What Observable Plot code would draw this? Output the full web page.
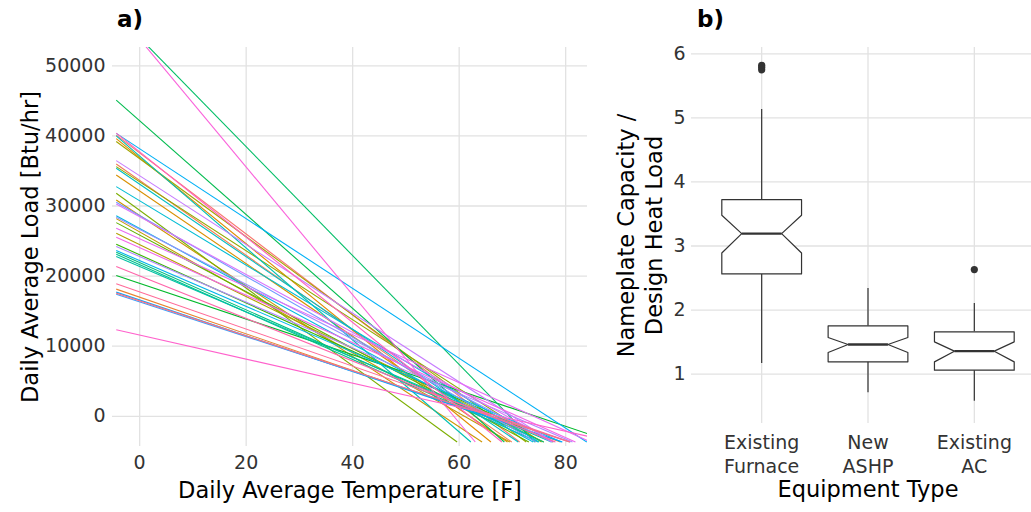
<!DOCTYPE html>
<html><head><meta charset="utf-8">
<script src="https://cdn.jsdelivr.net/npm/d3@7"></script>
<script src="https://cdn.jsdelivr.net/npm/@observablehq/plot@0.6"></script>
<style>
html,body{margin:0;padding:0;background:#fff;overflow:hidden;width:1031px;height:512px;}
#wrap{position:relative;width:1031px;height:512px;font-family:"DejaVu Sans",sans-serif;overflow:hidden;}
.panel{position:absolute;top:0;}
.panel svg{max-width:none !important;}
.tag{position:absolute;font-weight:bold;font-size:23px;line-height:1;color:#000;font-family:"DejaVu Sans",sans-serif;}
</style></head><body>
<div id="wrap">
  <div id="pa" class="panel" style="left:0px;width:600px"></div>
  <div id="pb" class="panel" style="left:600px;width:460px"></div>
  <div class="tag" style="left:117px;top:8px">a)</div>
  <div class="tag" style="left:697px;top:8px">b)</div>
</div>
<script>
// ---------- Panel a data: one regression line per house ----------
// daily average load at 0 °F [Btu/hr]
const houseLoadAt0F = [
  37560, 33650, 16990, 36900, 32150, 28650, 26300, 24490,
  36750, 33450, 29370, 25850, 23040, 18970, 42150, 54000,
  21930, 21630, 21370, 37120, 33110, 30740, 26780, 22210,
  38170, 16590, 16310, 28620, 26670, 22790, 34310, 28480,
  25330, 24060, 53800, 11590, 37720, 20030, 17740, 16470
];
// balance-point temperature (load = 0) [F]
const houseBalanceTempF = [
  65, 63, 65, 60, 62, 57, 61, 66,
  66, 68, 53, 64, 67, 74.4, 63, 69.5,
  65, 64, 66, 56.6, 64, 67, 65, 68,
  76.6, 65, 66, 66, 68, 70, 70, 69,
  74, 71, 59, 67.5, 62, 66, 67, 66
];
const tempTicks = [0, 20, 40, 60, 80];
const loadTicks = [0, 10000, 20000, 30000, 40000, 50000];

// ---------- Panel b data: notched box plots ----------
const equipmentTypes = ["Existing\nFurnace", "New\nASHP", "Existing\nAC"];
const boxLowerWhisker = [1.167, 0.708, 0.579];
const boxQ1           = [2.564, 1.192, 1.062];
const boxNotchLow     = [2.891, 1.338, 1.192];
const boxMedian       = [3.194, 1.463, 1.359];
const boxNotchHigh    = [3.479, 1.572, 1.504];
const boxQ3           = [3.724, 1.753, 1.660];
const boxUpperWhisker = [5.132, 2.336, 2.102];
const outlierType  = [0, 0, 0, 2];
const outlierValue = [5.75, 5.79, 5.82, 2.632];
const ratioTicks = [1, 2, 3, 4, 5, 6];

// ggplot-style hue palette (polar LUV, c = 100, l = 65)
function polarLuvHex(L, C, H) {
  const h = H * Math.PI / 180, u = C * Math.cos(h), v = C * Math.sin(h);
  const Xn = 95.047, Yn = 100, Zn = 108.883;
  const den = Xn + 15 * Yn + 3 * Zn, un = 4 * Xn / den, vn = 9 * Yn / den;
  const Y = L > 8 ? Yn * Math.pow((L + 16) / 116, 3) : Yn * L / 903.3;
  const up = u / (13 * L) + un, vp = v / (13 * L) + vn;
  const X = Y * 9 * up / (4 * vp), Z = Y * (12 - 3 * up - 20 * vp) / (4 * vp);
  const x = X / 100, y = Y / 100, z = Z / 100;
  const lin = [3.2404542 * x - 1.5371385 * y - 0.4985314 * z,
               -0.9692660 * x + 1.8760108 * y + 0.0415560 * z,
               0.0556434 * x - 0.2040259 * y + 1.0572252 * z];
  const g = c => { c = Math.min(1, Math.max(0, c)); return c <= 0.0031308 ? 12.92 * c : 1.055 * Math.pow(c, 1 / 2.4) - 0.055; };
  return d3.rgb(...lin.map(c => Math.round(g(c) * 255))).formatHex();
}

// ---------- Panel a ----------
const n = houseLoadAt0F.length;
const palette = d3.range(n).map(i => polarLuvHex(65, 100, 15 + 360 * i / n));
const X_MIN = -5.1, X_MAX = 84.1, Y_MIN = -4310, Y_MAX = 52610;
const LINE_X0 = -4.4, LINE_YMIN = -3670;
const segs = houseLoadAt0F.map((a, i) => {
  const slope = a / houseBalanceTempF[i];
  let xEnd = (a - LINE_YMIN) / slope;
  if (xEnd > X_MAX) xEnd = X_MAX;
  return {house: i, x1: LINE_X0, y1: a - slope * LINE_X0, x2: xEnd, y2: a - slope * xEnd};
});
const gridStyle = {stroke: "#e2e2e2", strokeOpacity: 1, strokeWidth: 1.3};
const FONT = "DejaVu Sans";

const plotA = Plot.plot({
  width: 600, height: 512,
  marginLeft: 112, marginRight: 13, marginTop: 47, marginBottom: 66,
  style: {fontFamily: FONT, fontSize: "19px", color: "#333", background: "transparent", overflow: "visible", maxWidth: "none"},
  x: {domain: [X_MIN, X_MAX]},
  y: {domain: [Y_MIN, Y_MAX]},
  color: {type: "ordinal", domain: d3.range(n), range: palette},
  marks: [
    Plot.gridX(tempTicks, gridStyle),
    Plot.gridY(loadTicks, gridStyle),
    Plot.link(segs, {x1: "x1", y1: "y1", x2: "x2", y2: "y2", stroke: "house", strokeWidth: 1.1, clip: true}),
    Plot.axisX(tempTicks, {tickSize: 0, tickPadding: 9, label: null, fontSize: 19, fill: "#333"}),
    Plot.axisY(loadTicks, {tickSize: 0, tickPadding: 7, label: null, fontSize: 19, fill: "#333", tickFormat: d3.format("d")}),
    Plot.text(["Daily Average Temperature [F]"], {text: d => d, frameAnchor: "bottom", dy: 51, fontSize: 22.5, fill: "#000"}),
    Plot.text(["Daily Average Load [Btu/hr]"], {text: d => d, frameAnchor: "left", textAnchor: "middle", dx: -82, rotate: -90, fontSize: 22.5, fill: "#000"})
  ]
});
document.getElementById("pa").appendChild(plotA);

// ---------- Panel b ----------
const BOX_HALF = 0.375, NOTCH_HALF = 0.1875;
const boxPoly = [];
equipmentTypes.forEach((t, i) => {
  const q1 = boxQ1[i], q3 = boxQ3[i], lo = boxNotchLow[i], hi = boxNotchHigh[i], md = boxMedian[i];
  [[i - BOX_HALF, q1], [i - BOX_HALF, lo], [i - NOTCH_HALF, md], [i - BOX_HALF, hi], [i - BOX_HALF, q3],
   [i + BOX_HALF, q3], [i + BOX_HALF, hi], [i + NOTCH_HALF, md], [i + BOX_HALF, lo], [i + BOX_HALF, q1],
   [i - BOX_HALF, q1]].forEach(([x, y]) => boxPoly.push({type: i, x, y}));
});
const boxes = equipmentTypes.map((t, i) => ({
  type: i, lw: boxLowerWhisker[i], q1: boxQ1[i], md: boxMedian[i], q3: boxQ3[i], uw: boxUpperWhisker[i]
}));
const outliers = outlierType.map((t, i) => ({type: t, value: outlierValue[i]}));

const plotB = Plot.plot({
  width: 460, height: 512,
  marginLeft: 91, marginRight: 16, marginTop: 47, marginBottom: 89,
  style: {fontFamily: FONT, fontSize: "19px", color: "#333", background: "transparent", overflow: "visible", maxWidth: "none"},
  x: {domain: [-0.66, 2.66]},
  y: {domain: [0.23, 6.098]},
  marks: [
    Plot.gridX([0, 1, 2], gridStyle),
    Plot.gridY(ratioTicks, gridStyle),
    Plot.ruleX(boxes, {x: "type", y1: "q3", y2: "uw", stroke: "#333", strokeWidth: 1.2}),
    Plot.ruleX(boxes, {x: "type", y1: "lw", y2: "q1", stroke: "#333", strokeWidth: 1.2}),
    Plot.line(boxPoly, {x: "x", y: "y", z: "type", stroke: "#333", strokeWidth: 1.2, fill: "white", curve: "linear"}),
    Plot.link(boxes, {x1: d => d.type - NOTCH_HALF, x2: d => d.type + NOTCH_HALF, y1: "md", y2: "md", stroke: "#333", strokeWidth: 2.4}),
    Plot.dot(outliers, {x: "type", y: "value", r: 3.6, fill: "#333", stroke: "none"}),
    Plot.axisX([0, 1, 2], {tickSize: 0, tickPadding: 9, label: null, fontSize: 19, fill: "#333", lineHeight: 1.24, tickFormat: i => equipmentTypes[i]}),
    Plot.axisY(ratioTicks, {tickSize: 0, tickPadding: 6, label: null, fontSize: 19, fill: "#333", tickFormat: d3.format("d")}),
    Plot.text(["Equipment Type"], {text: d => d, frameAnchor: "bottom", dy: 73.4, fontSize: 22.5, fill: "#000"}),
    Plot.text(["Nameplate Capacity /\nDesign Heat Load"], {text: d => d, frameAnchor: "left", textAnchor: "middle", dx: -52, rotate: -90, lineHeight: 1.24, fontSize: 22.5, fill: "#000"})
  ]
});
document.getElementById("pb").appendChild(plotB);
</script>
</body></html>
